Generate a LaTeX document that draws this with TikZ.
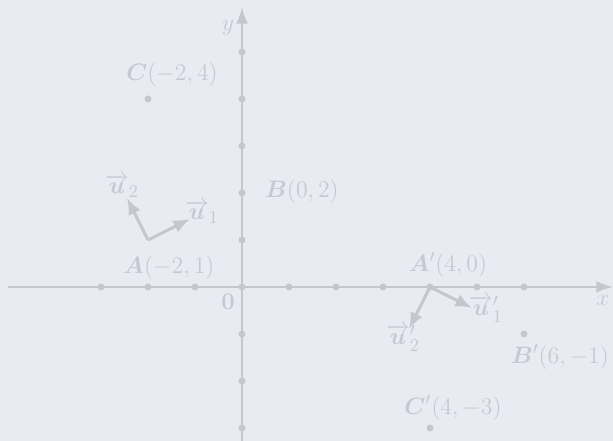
\documentclass[tikz,border=0pt]{standalone}
\usepackage{amsmath}
\usetikzlibrary{arrows.meta}
\definecolor{bgc}{HTML}{EAEAF2}
\definecolor{axc}{HTML}{C6C6CF}
\definecolor{txc}{HTML}{C8C8D2}
\tikzset{
  axis/.style={draw=axc, line width=1.2pt, -{Latex[length=10pt,width=7pt]}},
  vec/.style={draw=axc, line width=1.8pt, -{Latex[length=10pt,width=8pt]}},
  tick/.style={circle, fill=axc, inner sep=0pt, minimum size=4.2pt},
  pt/.style={circle, fill=axc, inner sep=0pt, minimum size=4.2pt},
  lbl/.style={text=txc, inner sep=0pt, font=\fontsize{15}{18}\selectfont},
}
\begin{document}
\begin{tikzpicture}
\fill[bgc] (-5.149,-3.277) rectangle (7.894,6.106);
\useasboundingbox (-5.149,-3.277) rectangle (7.894,6.106);
% axes
\coordinate (xs) at (-4.98,0);
\coordinate (xe) at (7.894,0);
\coordinate (ys) at (0,-3.3);
\coordinate (ye) at (0,5.957);
\draw[axis] (xs) -- (xe);
\draw[axis] (ys) -- (ye);
\foreach \i in {-3,-2,-1,0,1,2,3,4,5,6} \node[tick] (tx\i) at (\i,0) {};
\foreach \j in {-3,-2,-1,1,2,3,4,5} \node[tick] (ty\j) at (0,\j) {};
% points
\node[pt] (C) at (-2,4) {};
\node[pt] (Bp) at (6,-1) {};
\node[pt] (Cp) at (4,-3) {};
\coordinate (A) at (-2,1);
\coordinate (Ap) at (4,0);
\coordinate (B) at (0,2);
% vectors
\coordinate (U1) at (-1.106,1.447);
\coordinate (U2) at (-2.447,1.894);
\coordinate (U1p) at (4.894,-0.447);
\coordinate (U2p) at (3.553,-0.894);
\draw[vec] (A) -- (U1);
\draw[vec] (A) -- (U2);
\draw[vec] (Ap) -- (U1p);
\draw[vec] (Ap) -- (U2p);
% labels
\node[lbl] (lC) at (-1.489,4.511) {$\boldsymbol{C}(-2,4)$};
\node[lbl] (lA) at (-1.553,0.404) {$\boldsymbol{A}(-2,1)$};
\node[lbl] (lB) at (1.277,2.021) {$\boldsymbol{B}(0,2)$};
\node[lbl] (lu2) at (-2.553,2.149) {$\overrightarrow{\boldsymbol{u}}_2$};
\node[lbl] (lu1) at (-0.851,1.596) {$\overrightarrow{\boldsymbol{u}}_1$};
\node[lbl] (lO) at (-0.298,-0.319) {$\boldsymbol{0}$};
\node[lbl] (ly) at (-0.298,5.511) {$y$};
\node[lbl] (lx) at (7.681,-0.277) {$x$};
\node[lbl] (lAp) at (4.383,0.468) {$\boldsymbol{A}'(4,0)$};
\node[lbl] (lu1p) at (5.191,-0.468) {$\overrightarrow{\boldsymbol{u}}'_1$};
\node[lbl] (lu2p) at (3.426,-1.085) {$\overrightarrow{\boldsymbol{u}}'_2$};
\node[lbl] (lBp) at (6.766,-1.489) {$\boldsymbol{B}'(6,-1)$};
\node[lbl] (lCp) at (4.489,-2.574) {$\boldsymbol{C}'(4,-3)$};
\end{tikzpicture}
\end{document}
